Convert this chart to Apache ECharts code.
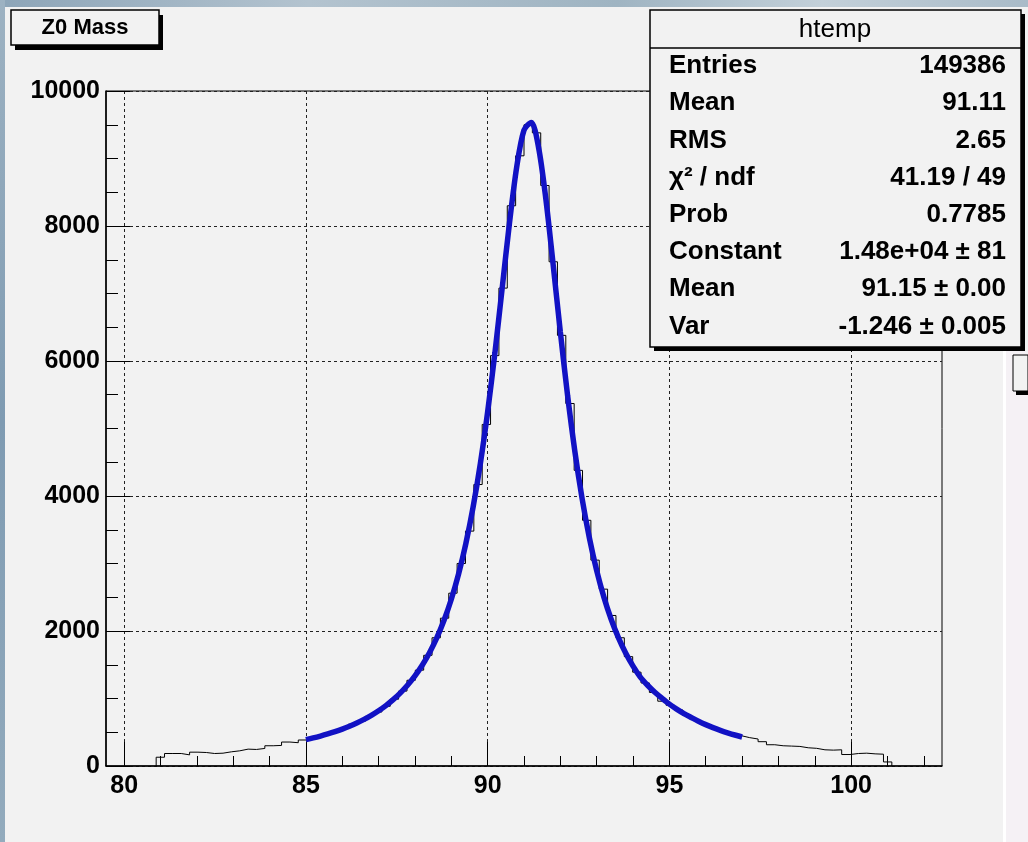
<!DOCTYPE html>
<html>
<head>
<meta charset="utf-8">
<title>Z0 Mass</title>
<script src="https://cdn.jsdelivr.net/npm/echarts@6/dist/echarts.min.js"></script>
<style>
  html, body { margin: 0; padding: 0; background: #f2f2f2; }
  #chart { width: 1028px; height: 842px; }
</style>
</head>
<body>
<div id="chart"></div>
<script>
// htemp: 100 bins from 79.5 to 102.5, only the filled bins (6..93) are listed
const histMin = 79.5
const histMax = 102.5
const binWidth = 0.23
const firstBin = 6
const binCounts = [
  130, 185, 185, 165, 205, 200, 185, 190, 210, 225, 250, 245, 260, 300, 305, 355, 345, 385,
  405, 430, 470, 520, 555, 620, 660, 735, 800, 885, 990, 1110, 1270, 1420, 1640, 1900,
  2190, 2560, 3000, 3480, 4170, 5060, 6080, 7080, 8300, 9040, 9500,
  9380, 8600, 7470, 6380, 5370, 4380, 3640, 3050, 2620, 2230, 1900, 1620, 1390, 1230,
  1090, 960, 900, 830, 750, 686, 626, 573, 527, 486, 449,
  420, 400, 360, 315, 300, 295, 290, 270, 262, 240, 235, 240, 170, 185, 190, 180, 175, 60,
]

// fit curve, sampled every 0.2 from 85 to 97
const fitStart = 85
const fitStep = 0.2
const fitValues = [
  391, 416, 444, 475, 509, 547, 590, 637, 690, 750, 818, 895, 983, 1084, 1200, 1335,
  1493, 1679, 1898, 2159, 2470, 2844, 3295, 3836, 4484, 5247, 6123, 7081, 8042, 8876,
  9419, 9535, 9165, 8406, 7438, 6429, 5486, 4659, 3958, 3376, 2894, 2498, 2170, 1898,
  1670, 1479, 1317, 1196, 1092, 1002, 917, 843, 777, 719, 663, 613, 568, 528, 492, 459, 430,
]

const xMajorTicks = [80, 85, 90, 95, 100]
const xMinorTicks = [81, 82, 83, 84, 86, 87, 88, 89, 91, 92, 93, 94, 96, 97, 98, 99, 101, 102]

const titleText = 'Z0 Mass'
const statsTitle = 'htemp'
const statsLabels = ['Entries', 'Mean', 'RMS', 'χ² / ndf', 'Prob', 'Constant', 'Mean', 'Var']
const statsValues = ['149386', '91.11', '2.65', '41.19 / 49', '0.7785', '1.48e+04 ± 81', '91.15 ± 0.00', '-1.246 ± 0.005']

const chart = echarts.init(document.getElementById('chart'))

const font = "'Liberation Sans', Arial, Helvetica, sans-serif"

// histogram outline as a step line over the bin edges
let histData = [[histMin + firstBin * binWidth, 0]]
binCounts.forEach(function (c, i) {
  histData.push([histMin + (firstBin + i) * binWidth, c])
})
const lastEdge = histMin + (firstBin + binCounts.length) * binWidth
histData.push([lastEdge, binCounts[binCounts.length - 1]])
histData.push([lastEdge, 0])

let fitData = fitValues.map(function (v, i) {
  return [fitStart + i * fitStep, v]
})

const gridLine = { show: true, lineStyle: { color: '#222', type: [3, 3], width: 1 } }

// stats box rows
let statsItems = []
statsLabels.forEach(function (lab, i) {
  const y = 66 + i * 37.2
  statsItems.push({
    type: 'text', z: 101,
    style: { text: lab, font: 'bold 26px ' + font, fill: '#000', x: 669, y: y, verticalAlign: 'middle' },
  })
  statsItems.push({
    type: 'text', z: 101,
    style: { text: statsValues[i], font: 'bold 26px ' + font, fill: '#000', x: 1006, y: y, align: 'right', verticalAlign: 'middle' },
  })
})

chart.setOption({
  backgroundColor: '#f2f2f2',
  animation: false,
  grid: {
    left: 106, top: 91, width: 836, height: 675,
    show: true, borderColor: '#000', borderWidth: 1, backgroundColor: 'transparent',
  },
  xAxis: [
    {
      type: 'value', min: histMin, max: histMax,
      axisLine: { show: true, onZero: false, lineStyle: { color: '#000', width: 1.5 } },
      axisTick: { show: true, inside: true, length: 24, customValues: xMajorTicks, lineStyle: { color: '#000' } },
      axisLabel: {
        customValues: xMajorTicks, margin: 8, color: '#000',
        fontFamily: font, fontWeight: 'bold', fontSize: 25,
      },
      splitLine: gridLine,
    },
    {
      type: 'value', min: histMin, max: histMax, position: 'bottom',
      axisLine: { show: false },
      axisTick: { show: true, inside: true, length: 10, customValues: xMinorTicks, lineStyle: { color: '#000' } },
      axisLabel: { show: false },
      splitLine: { show: false },
    },
  ],
  yAxis: {
    type: 'value', min: 0, max: 10000, interval: 2000,
    axisLine: { show: true, lineStyle: { color: '#000', width: 1.5 } },
    axisTick: { show: true, inside: true, length: 24, lineStyle: { color: '#000' } },
    minorTick: { show: true, splitNumber: 4, length: 12, lineStyle: { color: '#000' } },
    axisLabel: {
      margin: 6, color: '#000', fontFamily: font, fontWeight: 'bold', fontSize: 25,
      formatter: function (v) { return String(v) },
    },
    splitLine: gridLine,
  },
  series: [
    {
      name: 'htemp', type: 'line', step: 'end', data: histData,
      symbol: 'none', z: 3,
      lineStyle: { color: '#000', width: 1 },
    },
    {
      name: 'fit', type: 'line', data: fitData, smooth: 0.3,
      symbol: 'none', z: 4,
      lineStyle: { color: '#1212c4', width: 5.5 },
    },
  ],
  graphic: [
    // desktop behind the canvas
    {
      type: 'rect', z: -10, shape: { x: 0, y: 0, width: 1028, height: 7 },
      style: {
        fill: new echarts.graphic.LinearGradient(0, 0, 1, 0, [
          { offset: 0, color: '#8da5b8' }, { offset: 0.3, color: '#b3c3cf' },
          { offset: 0.6, color: '#9fb4c2' }, { offset: 0.8, color: '#c3d0d9' },
          { offset: 1, color: '#a9bbc8' },
        ]),
      },
    },
    {
      type: 'rect', z: -10, shape: { x: 0, y: 0, width: 5, height: 842 },
      style: {
        fill: new echarts.graphic.LinearGradient(0, 0, 0, 1, [
          { offset: 0, color: '#9db2c2' }, { offset: 0.5, color: '#7f9bb2' },
          { offset: 1, color: '#93abbd' },
        ]),
      },
    },
    // neighbouring panel at the right edge
    { type: 'rect', z: -5, shape: { x: 1003, y: 351, width: 3, height: 491 }, style: { fill: '#ffffff' } },
    { type: 'rect', z: -5, shape: { x: 1006, y: 351, width: 22, height: 491 }, style: { fill: '#f5f1f5' } },
    { type: 'rect', z: -4, shape: { x: 1016, y: 359, width: 14, height: 36 }, style: { fill: '#000' } },
    { type: 'rect', z: -3, shape: { x: 1013, y: 355, width: 15, height: 36 }, style: { fill: '#f2f2f2', stroke: '#000', lineWidth: 1 } },
    // title box
    { type: 'rect', z: 100, shape: { x: 15, y: 15, width: 148, height: 35 }, style: { fill: '#000' } },
    { type: 'rect', z: 100, shape: { x: 11, y: 10, width: 148, height: 35 }, style: { fill: '#f2f2f2', stroke: '#000', lineWidth: 1.5 } },
    {
      type: 'text', z: 101,
      style: { text: titleText, font: 'bold 22px ' + font, fill: '#000', x: 85, y: 28, align: 'center', verticalAlign: 'middle' },
    },
    // stats box
    { type: 'rect', z: 100, shape: { x: 654, y: 14, width: 371, height: 337 }, style: { fill: '#000' } },
    { type: 'rect', z: 100, shape: { x: 650, y: 10, width: 371, height: 337 }, style: { fill: '#f2f2f2', stroke: '#000', lineWidth: 1.5 } },
    { type: 'line', z: 101, shape: { x1: 650, y1: 48, x2: 1021, y2: 48 }, style: { stroke: '#000', lineWidth: 1.5 } },
    {
      type: 'text', z: 101,
      style: { text: statsTitle, font: '26px ' + font, fill: '#000', x: 835, y: 30, align: 'center', verticalAlign: 'middle' },
    },
  ].concat(statsItems),
})
</script>
</body>
</html>
